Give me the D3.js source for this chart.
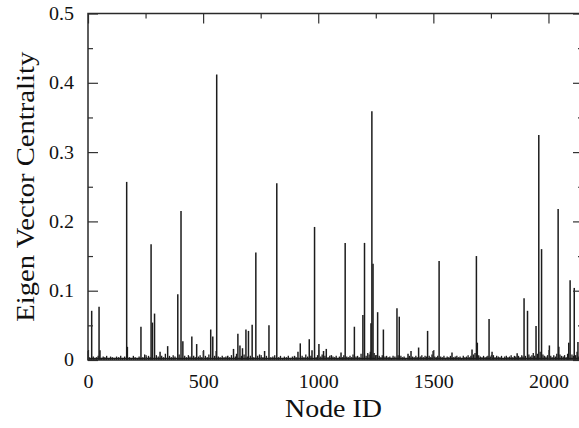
<!DOCTYPE html>
<html>
<head>
<meta charset="utf-8">
<script src="https://cdn.jsdelivr.net/npm/d3@7"></script>
<style>
  body { margin: 0; background: #fff; }
  svg { display: block; }
</style>
</head>
<body>
<div id="chart"></div>
<script>
// big spikes: [node id, centrality]
const peaks = [
  [1, 0.013], [16, 0.071], [48, 0.077], [52, 0.014], [168, 0.257], [171, 0.019],
  [230, 0.048], [274, 0.167], [280, 0.054], [289, 0.067], [313, 0.012], [346, 0.020],
  [390, 0.095], [404, 0.215], [412, 0.027], [451, 0.034], [472, 0.023], [501, 0.013],
  [533, 0.044], [542, 0.034], [557, 0.013], [559, 0.412], [607, 0.006], [632, 0.016],
  [651, 0.038], [660, 0.021], [671, 0.017], [686, 0.044], [697, 0.042], [713, 0.051],
  [729, 0.155], [767, 0.013], [786, 0.050], [820, 0.255], [897, 0.006], [912, 0.012],
  [922, 0.024], [961, 0.030], [973, 0.014], [984, 0.192], [1003, 0.023], [1023, 0.013],
  [1035, 0.016], [1057, 0.007], [1099, 0.011], [1117, 0.169], [1157, 0.048], [1194, 0.065],
  [1201, 0.169], [1229, 0.053], [1233, 0.359], [1238, 0.139], [1258, 0.069], [1283, 0.044],
  [1342, 0.0745], [1352, 0.0625], [1390, 0.009], [1403, 0.013], [1436, 0.018], [1475, 0.042],
  [1499, 0.013], [1525, 0.143], [1581, 0.011], [1668, 0.015], [1687, 0.150], [1691, 0.025],
  [1742, 0.059], [1755, 0.012], [1864, 0.0096], [1894, 0.089], [1909, 0.071], [1946, 0.049],
  [1958, 0.3245], [1970, 0.160], [2004, 0.021], [2042, 0.218], [2045, 0.019], [2088, 0.025],
  [2094, 0.115], [2112, 0.104], [2128, 0.026], [2140, 0.034]
];

// low level values that make up the ragged base line
const baseline = [
  [5, 0.004], [9, 0.003], [23, 0.005], [30, 0.003], [37, 0.004], [44, 0.006], [58, 0.003],
  [66, 0.005], [73, 0.004], [81, 0.006], [90, 0.003], [98, 0.005], [106, 0.004], [115, 0.003],
  [124, 0.005], [133, 0.004], [142, 0.006], [150, 0.003], [159, 0.005], [180, 0.004], [188, 0.003],
  [197, 0.006], [205, 0.004], [214, 0.003], [222, 0.005], [238, 0.004], [246, 0.008], [254, 0.005],
  [263, 0.006], [270, 0.004], [297, 0.007], [305, 0.005], [320, 0.006], [328, 0.004], [336, 0.009],
  [354, 0.006], [362, 0.004], [370, 0.007], [378, 0.005], [396, 0.008], [420, 0.006], [428, 0.004],
  [436, 0.007], [443, 0.005], [459, 0.006], [466, 0.004], [480, 0.005], [487, 0.007], [494, 0.004],
  [510, 0.006], [518, 0.004], [525, 0.008], [550, 0.006], [566, 0.005], [574, 0.004], [583, 0.006],
  [591, 0.004], [599, 0.005], [615, 0.004], [623, 0.007], [640, 0.005], [645, 0.009], [667, 0.006],
  [678, 0.008], [692, 0.005], [705, 0.006], [720, 0.004], [737, 0.006], [745, 0.008], [753, 0.005],
  [760, 0.004], [775, 0.006], [794, 0.004], [803, 0.005], [811, 0.007], [828, 0.004], [836, 0.006],
  [845, 0.003], [853, 0.005], [862, 0.004], [870, 0.006], [879, 0.003], [888, 0.005], [904, 0.004],
  [930, 0.006], [938, 0.004], [946, 0.008], [954, 0.005], [968, 0.006], [991, 0.004], [997, 0.007],
  [1011, 0.005], [1017, 0.008], [1029, 0.006], [1043, 0.004], [1050, 0.006], [1064, 0.005], [1071, 0.004],
  [1078, 0.006], [1085, 0.003], [1092, 0.005], [1106, 0.004], [1111, 0.007], [1124, 0.005], [1131, 0.004],
  [1138, 0.006], [1145, 0.004], [1151, 0.008], [1164, 0.005], [1171, 0.006], [1178, 0.004], [1186, 0.009],
  [1208, 0.006], [1215, 0.010], [1221, 0.008], [1226, 0.012], [1243, 0.010], [1249, 0.007], [1265, 0.006],
  [1272, 0.004], [1278, 0.007], [1290, 0.005], [1297, 0.006], [1304, 0.004], [1311, 0.005], [1318, 0.003],
  [1325, 0.006], [1333, 0.005], [1347, 0.007], [1359, 0.006], [1366, 0.004], [1373, 0.005], [1380, 0.003],
  [1396, 0.006], [1410, 0.005], [1417, 0.004], [1424, 0.006], [1430, 0.004], [1443, 0.005], [1450, 0.007],
  [1457, 0.004], [1464, 0.006], [1470, 0.005], [1482, 0.006], [1488, 0.004], [1494, 0.008], [1506, 0.005],
  [1513, 0.004], [1519, 0.006], [1532, 0.005], [1539, 0.004], [1546, 0.006], [1553, 0.003], [1560, 0.005],
  [1567, 0.004], [1574, 0.006], [1588, 0.004], [1595, 0.005], [1602, 0.006], [1609, 0.004], [1616, 0.005],
  [1623, 0.003], [1630, 0.006], [1637, 0.004], [1644, 0.005], [1651, 0.007], [1658, 0.004], [1663, 0.006],
  [1675, 0.008], [1681, 0.010], [1697, 0.007], [1704, 0.005], [1711, 0.004], [1718, 0.006], [1725, 0.004],
  [1732, 0.005], [1737, 0.006], [1748, 0.005], [1761, 0.007], [1768, 0.004], [1775, 0.006], [1782, 0.005],
  [1789, 0.004], [1796, 0.006], [1803, 0.003], [1810, 0.005], [1817, 0.006], [1824, 0.004], [1831, 0.005],
  [1838, 0.007], [1845, 0.004], [1852, 0.006], [1858, 0.005], [1870, 0.006], [1877, 0.004], [1884, 0.007],
  [1889, 0.005], [1900, 0.006], [1915, 0.008], [1921, 0.005], [1928, 0.007], [1934, 0.010], [1940, 0.006],
  [1952, 0.009], [1964, 0.012], [1976, 0.008], [1982, 0.006], [1989, 0.005], [1996, 0.007], [2010, 0.006],
  [2016, 0.004], [2023, 0.007], [2030, 0.005], [2036, 0.009], [2050, 0.008], [2057, 0.006], [2064, 0.005],
  [2070, 0.007], [2077, 0.004], [2083, 0.009], [2102, 0.008], [2108, 0.006], [2118, 0.007], [2124, 0.012],
  [2132, 0.005], [2146, 0.006]
];

const xTicks = [0, 500, 1000, 1500, 2000];
const xMinorTicks = [250, 750, 1250, 1750];
const yTicks = [0, 0.1, 0.2, 0.3, 0.4, 0.5];
const yMinorTicks = [0.05, 0.15, 0.25, 0.35, 0.45];
const xMax = 2150;

const W = 579, H = 428;
const margin = { top: 13.5, right: -4, bottom: 68, left: 88 };
const width = W - margin.left - margin.right;
const height = H - margin.top - margin.bottom;
// no Times on the box; DejaVu Serif squeezed to Times widths with textLength
const font = "Liberation Serif, Times New Roman, DejaVu Serif, serif";
const ink = "#1c1c1c";

// rough Times advance widths for the tick label characters, in em
const timesAdv = ch => ch === "." ? 0.25 : 0.5;
const labelWidth = (s, size) => Array.from(s).reduce((w, c) => w + timesAdv(c), 0) * size;

const svg = d3.select("#chart").append("svg")
  .attr("width", W)
  .attr("height", H);

const g = svg.append("g")
  .attr("transform", `translate(${margin.left},${margin.top})`);

const x = d3.scaleLinear().domain([0, xMax]).range([0, width]);
const y = d3.scaleLinear().domain([0, 0.5]).range([height, 0]);

// spikes
g.append("g").selectAll("line.base")
  .data(baseline)
  .join("line")
  .attr("x1", d => x(d[0])).attr("x2", d => x(d[0]))
  .attr("y1", y(0)).attr("y2", d => y(d[1]))
  .attr("stroke", ink)
  .attr("stroke-width", 1.3);

g.append("g").selectAll("line.peak")
  .data(peaks)
  .join("line")
  .attr("x1", d => x(d[0])).attr("x2", d => x(d[0]))
  .attr("y1", y(0)).attr("y2", d => y(d[1]))
  .attr("stroke", ink)
  .attr("stroke-width", 1.5);

// base line of the series
g.append("line")
  .attr("x1", 0).attr("x2", width)
  .attr("y1", y(0) - 1.5).attr("y2", y(0) - 1.5)
  .attr("stroke", ink)
  .attr("stroke-width", 1.5);

// axes, ticks point inward
function styleAxis(sel) {
  sel.select(".domain").remove();
  sel.selectAll(".tick line").attr("stroke", "#333").attr("stroke-width", 1.2);
  sel.selectAll("text")
    .attr("font-family", font)
    .attr("font-size", 18.5)
    .attr("fill", "#111")
    .attr("lengthAdjust", "spacingAndGlyphs")
    .attr("textLength", function() { return labelWidth(this.textContent, 20); });
}

g.append("g")
  .attr("transform", `translate(0,${height})`)
  .call(d3.axisBottom(x).tickValues(xTicks).tickSize(-10).tickPadding(15).tickFormat(d3.format("d")))
  .call(styleAxis);
g.append("g")
  .attr("transform", `translate(0,${height})`)
  .call(d3.axisBottom(x).tickValues(xMinorTicks).tickSize(-5).tickFormat(""))
  .call(styleAxis);
g.append("g")
  .call(d3.axisTop(x).tickValues(xTicks).tickSize(-10).tickFormat(""))
  .call(styleAxis);
g.append("g")
  .call(d3.axisTop(x).tickValues(xMinorTicks).tickSize(-5).tickFormat(""))
  .call(styleAxis);

g.append("g")
  .call(d3.axisLeft(y).tickValues(yTicks).tickSize(-10).tickPadding(14)
    .tickFormat(d => d === 0 ? "0" : d3.format(".1f")(d)))
  .call(styleAxis);
g.append("g")
  .call(d3.axisLeft(y).tickValues(yMinorTicks).tickSize(-5).tickFormat(""))
  .call(styleAxis);
g.append("g")
  .attr("transform", `translate(${width},0)`)
  .call(d3.axisRight(y).tickValues(yTicks).tickSize(-10).tickFormat(""))
  .call(styleAxis);
g.append("g")
  .attr("transform", `translate(${width},0)`)
  .call(d3.axisRight(y).tickValues(yMinorTicks).tickSize(-5).tickFormat(""))
  .call(styleAxis);

// frame
g.append("rect")
  .attr("width", width)
  .attr("height", height)
  .attr("fill", "none")
  .attr("stroke", "#2a2a2a")
  .attr("stroke-width", 1.5);

// axis titles
svg.append("text")
  .attr("x", margin.left + x(xMax / 2) - 2)
  .attr("y", 417)
  .attr("text-anchor", "middle")
  .attr("font-family", font)
  .attr("font-size", 25.5)
  .attr("fill", "#111")
  .attr("lengthAdjust", "spacingAndGlyphs")
  .attr("textLength", 97)
  .text("Node ID");

svg.append("text")
  .attr("transform", `translate(34,${margin.top + height / 2}) rotate(-90)`)
  .attr("text-anchor", "middle")
  .attr("font-family", font)
  .attr("font-size", 25.5)
  .attr("fill", "#111")
  .attr("lengthAdjust", "spacingAndGlyphs")
  .attr("textLength", 270)
  .text("Eigen Vector Centrality");
</script>
</body>
</html>
